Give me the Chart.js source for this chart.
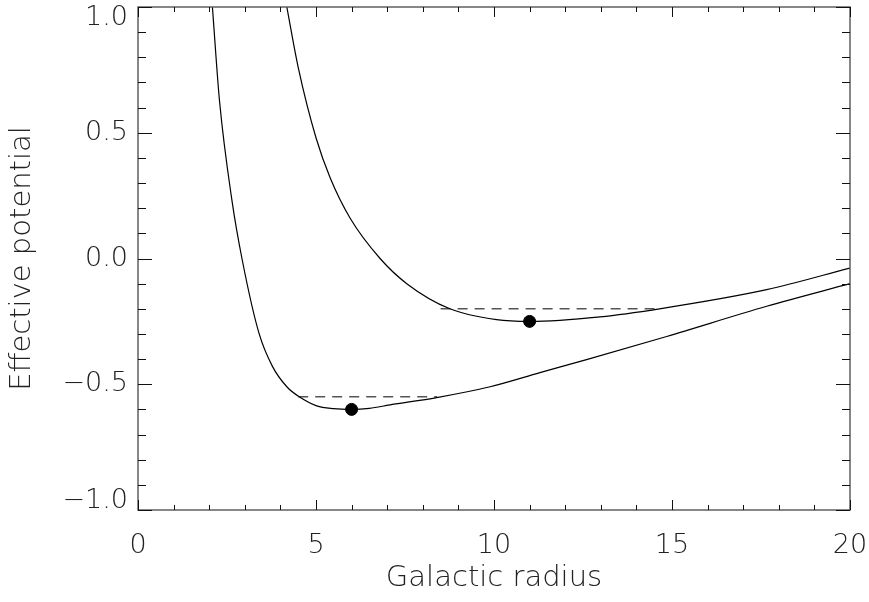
<!DOCTYPE html>
<html>
<head>
<meta charset="utf-8">
<script src="https://cdn.jsdelivr.net/npm/chart.js@4/dist/chart.umd.min.js"></script>
<style>
  html, body { margin: 0; padding: 0; background: #fff; }
  #wrap { width: 869px; height: 602px; }
</style>
</head>
<body>
<div id="wrap"><canvas id="potential-chart"></canvas></div>
<script>
// inner orbit curve (smaller angular momentum)
var lowerR   = [2.09, 2.29, 2.64, 2.92, 3.40, 3.78, 4.18, 4.53, 5.02, 5.49, 6.00, 6.50, 7.08, 8.39, 9.89, 11.29, 12.60, 14.85, 17.66, 20.00];
var lowerPhi = [1.00, 0.626, 0.23, 0.00, -0.298, -0.43, -0.51, -0.55, -0.586, -0.597, -0.60, -0.596, -0.582, -0.553, -0.51, -0.454, -0.402, -0.31, -0.19, -0.10];

// outer orbit curve (larger angular momentum)
var upperR   = [4.18, 4.50, 5.00, 5.40, 5.96, 6.80, 7.55, 8.76, 10.07, 11.00, 12.98, 14.65, 17.66, 20.00];
var upperPhi = [1.00, 0.76, 0.48, 0.32, 0.16, 0.00, -0.10, -0.20, -0.243, -0.25, -0.232, -0.20, -0.124, -0.038];

// circular orbit points (curve minima)
var circR   = [6, 11];
var circPhi = [-0.6, -0.25];

// orbit energies, dashed between the turning points
var lowerEnergyR = [4.5, 8.4];
var lowerEnergy  = -0.55;
var upperEnergyR = [8.5, 14.65];
var upperEnergy  = -0.2;

var xMajor = [0, 5, 10, 15, 20];
var yMajor = [-1.0, -0.5, 0.0, 0.5, 1.0];

function toPoints(xs, ys) {
  var pts = [];
  for (var i in xs) {
    pts.push({x: xs[i], y: Array.isArray(ys) ? ys[i] : ys});
  }
  return pts;
}

function isMajor(list, v) {
  for (var i in list) {
    if (Math.abs(list[i] - v) < 1e-6) return true;
  }
  return false;
}

var fontFamily = "'DejaVu Sans', 'Liberation Sans', sans-serif";

// frame + inward ticks on all four sides, like the IDL plot
var framePlugin = {
  id: 'frame',
  afterDraw(chart) {
    var ctx = chart.ctx;
    var a = chart.chartArea;
    var xs = chart.scales.x, ys = chart.scales.y;
    ctx.save();
    ctx.strokeStyle = '#555';
    ctx.lineWidth = 1.4;
    ctx.strokeRect(a.left, a.top, a.right - a.left, a.bottom - a.top);
    ctx.strokeStyle = '#111';
    ctx.lineWidth = 1;
    ctx.beginPath();
    xs.ticks.forEach(function (t) {
      var px = Math.round(xs.getPixelForValue(t.value)) + 0.5;
      var len = isMajor(xMajor, t.value) ? 10 : 5;
      ctx.moveTo(px, a.bottom); ctx.lineTo(px, a.bottom - len);
      ctx.moveTo(px, a.top); ctx.lineTo(px, a.top + len);
    });
    ys.ticks.forEach(function (t) {
      var py = Math.round(ys.getPixelForValue(t.value)) + 0.5;
      var len = isMajor(yMajor, t.value) ? 14 : 8;
      ctx.moveTo(a.left, py); ctx.lineTo(a.left + len, py);
      ctx.moveTo(a.right, py); ctx.lineTo(a.right - len, py);
    });
    ctx.stroke();
    ctx.restore();
  }
};

var ctx = document.getElementById('potential-chart');
var myChart = new Chart(ctx, {
  type: 'scatter',
  data: {
    datasets: [
      {
        data: toPoints(lowerR, lowerPhi),
        showLine: true,
        borderColor: '#000',
        borderWidth: 1.2,
        pointRadius: 0,
        cubicInterpolationMode: 'monotone'
      },
      {
        data: toPoints(upperR, upperPhi),
        showLine: true,
        borderColor: '#000',
        borderWidth: 1.2,
        pointRadius: 0,
        cubicInterpolationMode: 'monotone'
      },
      {
        data: toPoints(lowerEnergyR, lowerEnergy),
        showLine: true,
        borderColor: '#555',
        borderWidth: 1.5,
        borderDash: [10, 7],
        pointRadius: 0
      },
      {
        data: toPoints(upperEnergyR, upperEnergy),
        showLine: true,
        borderColor: '#555',
        borderWidth: 1.5,
        borderDash: [10, 7],
        pointRadius: 0
      },
      {
        data: toPoints(circR, circPhi),
        showLine: false,
        pointRadius: 6,
        pointBackgroundColor: '#000',
        pointBorderColor: '#000'
      }
    ]
  },
  options: {
    responsive: true,
    maintainAspectRatio: false,
    animation: false,
    layout: { padding: { top: 5, right: 19, left: 0, bottom: 0 } },
    plugins: {
      legend: { display: false },
      tooltip: { enabled: false }
    },
    scales: {
      x: {
        type: 'linear',
        min: 0,
        max: 20,
        grid: { display: false, drawTicks: false },
        border: { display: false },
        afterFit(scale) {
          scale.height = 92;
          scale.paddingLeft = 0;
          scale.paddingRight = 0;
        },
        ticks: {
          stepSize: 1,
          autoSkip: false,
          maxRotation: 0,
          padding: 20,
          color: '#222',
          font: { family: fontFamily, size: 27, weight: '200' },
          callback(v) { return isMajor(xMajor, v) ? String(v) : ''; }
        },
        title: {
          display: true,
          text: 'Galactic radius',
          color: '#222',
          font: { family: fontFamily, size: 29, weight: '200' },
          padding: { top: 0, bottom: 6 }
        }
      },
      y: {
        type: 'linear',
        min: -1,
        max: 1,
        grid: { display: false, drawTicks: false },
        border: { display: false },
        afterFit(scale) {
          scale.width = 138;
          scale.paddingTop = 0;
          scale.paddingBottom = 0;
        },
        ticks: {
          stepSize: 0.1,
          autoSkip: false,
          padding: 10,
          color: '#222',
          // end labels sit inside the frame: shifted via a blank second line
          font(c) {
            var v = c.tick ? c.tick.value : 0;
            var lh = 1.2;
            if (Math.abs(v - 1) < 1e-6) lh = '22px';
            if (Math.abs(v + 1) < 1e-6) lh = '18px';
            return { family: fontFamily, size: 27, weight: '200', lineHeight: lh };
          },
          callback(v) {
            if (!isMajor(yMajor, v)) return '';
            var s = Math.abs(v).toFixed(1);
            if (v < -1e-6) s = '\u2212' + s;
            if (Math.abs(v - 1) < 1e-6) return ['', s];
            if (Math.abs(v + 1) < 1e-6) return [s, ''];
            return s;
          }
        },
        title: {
          display: true,
          text: 'Effective potential',
          color: '#222',
          font: { family: fontFamily, size: 29, weight: '200' },
          padding: { top: 5, bottom: 0 }
        }
      }
    }
  },
  plugins: [framePlugin]
});
</script>
</body>
</html>
